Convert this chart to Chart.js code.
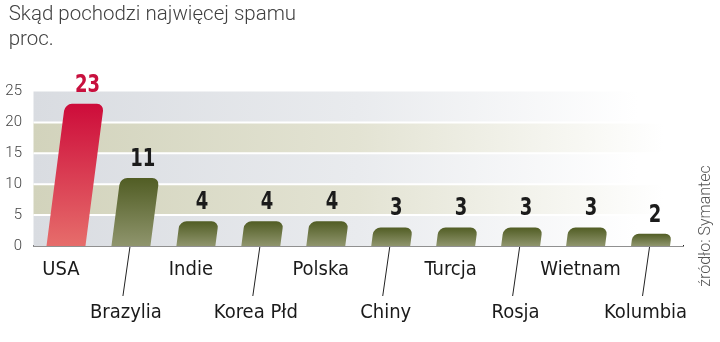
<!DOCTYPE html>
<html lang="pl">
  <head>
    <meta charset="UTF-8" />
    <script src="https://cdn.jsdelivr.net/npm/chart.js@4.4.1/dist/chart.umd.min.js"></script>
    <title>Skąd pochodzi najwięcej spamu</title>
    <style>
      body { margin: 0; background: #fff; }
    </style>
  </head>
  <body>
    <canvas id="spamChart" width="720" height="342"></canvas>
    <script>
      const countries = ["USA", "Brazylia", "Indie", "Korea Płd", "Polska", "Chiny", "Turcja", "Rosja", "Wietnam", "Kolumbia"];
      const spamShare = [23, 11, 4, 4, 4, 3, 3, 3, 3, 2];
      const yTicks = [0, 5, 10, 15, 20, 25];
      const titleLines = ["Skąd pochodzi najwięcej spamu", "proc."];
      const sourceText = "źródło: Symantec";

      const slant = 0.13; // bars lean to the right
      const indent = "\u2005\u2006"; // small left indent for the title

      function barFill(context) {
        const chart = context.chart;
        const area = chart.chartArea;
        if (!area) return "#6b7440";
        const y = chart.scales.y;
        const top = y.getPixelForValue(context.raw);
        const base = y.getPixelForValue(0);
        const g = chart.ctx.createLinearGradient(0, top, 0, base);
        if (context.dataIndex === 0) {
          g.addColorStop(0, "#cd0c3a");
          g.addColorStop(1, "#e66d6b");
        } else {
          g.addColorStop(0, "#515d24");
          g.addColorStop(1, "#8f956d");
        }
        return g;
      }

      // striped background that fades out to the right
      const bands = {
        id: "bands",
        beforeDatasetsDraw(chart) {
          const { ctx, chartArea: a, scales: { y } } = chart;
          for (let i = 0; i < yTicks.length - 1; i++) {
            const top = y.getPixelForValue(yTicks[i + 1]);
            const bottom = y.getPixelForValue(yTicks[i]);
            const g = ctx.createLinearGradient(a.left, 0, a.right, 0);
            if (i % 2 === 1) {
              g.addColorStop(0, "#d2d3bc");
              g.addColorStop(0.5, "#e3e3d3");
              g.addColorStop(0.97, "#ffffff");
            } else {
              g.addColorStop(0, "#d9dce1");
              g.addColorStop(0.5, "#e9ebee");
              g.addColorStop(0.93, "#ffffff");
            }
            ctx.fillStyle = g;
            ctx.fillRect(a.left, top, a.right - a.left, bottom - top);
          }
          ctx.save();
          ctx.strokeStyle = "#ffffff";
          ctx.lineWidth = 2;
          for (let i = 1; i < yTicks.length - 1; i++) {
            const py = y.getPixelForValue(yTicks[i]);
            ctx.beginPath();
            ctx.moveTo(a.left, py);
            ctx.lineTo(a.right, py);
            ctx.stroke();
          }
          ctx.restore();
        }
      };

      const lean = {
        id: "lean",
        beforeDatasetsDraw(chart) {
          const base = chart.scales.y.getPixelForValue(0);
          chart.ctx.save();
          chart.ctx.transform(1, 0, -slant, 1, slant * base, 0);
        },
        afterDatasetsDraw(chart) {
          chart.ctx.restore();
        }
      };

      const extras = {
        id: "extras",
        afterDraw(chart) {
          const { ctx, chartArea: a, scales: { y } } = chart;
          const base = y.getPixelForValue(0);
          const bars = chart.getDatasetMeta(0).data;
          // value labels, squeezed to look like a condensed bold face
          ctx.save();
          ctx.textAlign = "center";
          ctx.textBaseline = "alphabetic";
          ctx.font = "bold 25px 'DejaVu Sans Condensed', 'DejaVu Sans', sans-serif";
          bars.forEach((bar, i) => {
            const topX = bar.x + slant * (base - bar.y);
            ctx.save();
            ctx.translate(topX + 3, bar.y - 12);
            ctx.scale(0.8, 1);
            ctx.fillStyle = i === 0 ? "#c8103e" : "#1b1b1b";
            ctx.fillText(String(spamShare[i]), 0, 0);
            ctx.restore();
          });
          // leader lines to the lower row of labels
          ctx.strokeStyle = "#222";
          ctx.lineWidth = 1;
          bars.forEach((bar, i) => {
            if (i % 2 === 1) {
              ctx.beginPath();
              ctx.moveTo(bar.x - 1, base + 1);
              ctx.lineTo(bar.x - 8, base + 50);
              ctx.stroke();
            }
          });
          // source, rotated
          ctx.translate(a.right + 23, 226);
          ctx.rotate(-Math.PI / 2);
          ctx.font = "300 16px Roboto, 'DejaVu Sans', sans-serif";
          ctx.fillStyle = "#555";
          ctx.textBaseline = "middle";
          ctx.fillText(sourceText, 0, 0);
          ctx.restore();
        }
      };

      new Chart(document.getElementById("spamChart"), {
        type: "bar",
        data: {
          labels: countries,
          datasets: [
            {
              data: spamShare,
              backgroundColor: barFill,
              borderRadius: { topLeft: 7, topRight: 7, bottomLeft: 0, bottomRight: 0 },
              borderSkipped: "start",
              barPercentage: 0.6,
              categoryPercentage: 1
            }
          ]
        },
        options: {
          responsive: false,
          animation: false,
          layout: { padding: { left: 0, right: 37, top: 0, bottom: 0 } },
          plugins: {
            legend: { display: false },
            tooltip: { enabled: false },
            title: {
              display: true,
              text: titleLines.map((t) => indent + t),
              align: "start",
              color: "#404040",
              font: { family: "Roboto, 'DejaVu Sans', sans-serif", size: 20.5, weight: "300", lineHeight: 25 / 20.5 },
              padding: { top: 2, bottom: 39.5 }
            }
          },
          scales: {
            x: {
              grid: { display: false, drawTicks: false },
              border: { display: true, color: "#222", width: 1.5 },
              afterFit(scale) { scale.height = 96; },
              ticks: {
                autoSkip: false,
                maxRotation: 0,
                padding: 2.5,
                labelOffset: -5,
                color: "#1a1a1a",
                font: { family: "'DejaVu Sans Condensed', 'DejaVu Sans', sans-serif", size: 20, lineHeight: 2.15 },
                callback(value, index) {
                  const name = countries[index];
                  return index % 2 === 1 ? ["", name] : name;
                }
              }
            },
            y: {
              min: 0,
              max: 25,
              grid: { display: false, drawTicks: false },
              border: { display: false },
              afterFit(scale) { scale.width = 33.5; },
              ticks: {
                stepSize: 5,
                padding: 11.5,
                color: "#444",
                font: { family: "Roboto, 'DejaVu Sans', sans-serif", size: 15, weight: "300" }
              }
            }
          }
        },
        plugins: [bands, lean, extras]
      });
    </script>
  </body>
</html>
